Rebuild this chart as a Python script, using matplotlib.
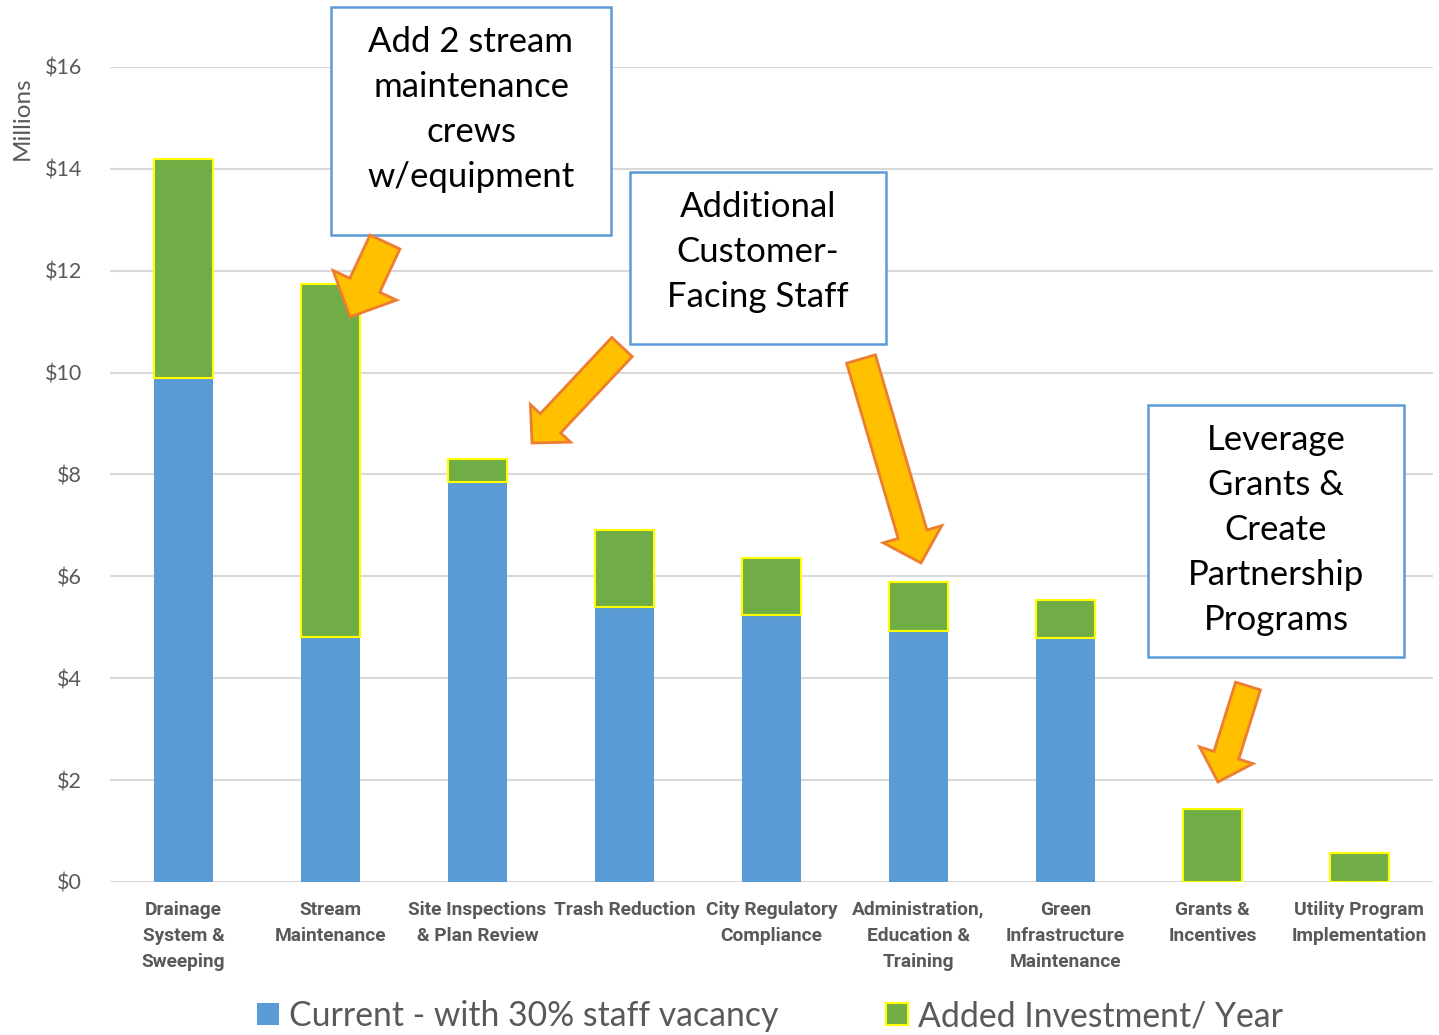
import matplotlib.pyplot as plt
import numpy as np
from matplotlib.patches import Rectangle, FancyArrow

plt.rcParams['font.family'] = ['Lato', 'DejaVu Sans']

categories = ["Drainage\nSystem &\nSweeping", "Stream\nMaintenance", "Site Inspections\n& Plan Review",
              "Trash Reduction", "City Regulatory\nCompliance", "Administration,\nEducation &\nTraining",
              "Green\nInfrastructure\nMaintenance", "Grants &\nIncentives", "Utility Program\nImplementation"]
current = [9.89, 4.81, 7.85, 5.40, 5.24, 4.93, 4.79, 0.0, 0.0]
added = [4.30, 6.93, 0.45, 1.51, 1.12, 0.96, 0.75, 1.43, 0.57]
yticks = [0, 2, 4, 6, 8, 10, 12, 14, 16]

BLUE = '#5B9BD5'
GREEN = '#70AD47'
GRAY = '#595959'
W, H = 1439, 1035

fig = plt.figure(figsize=(W / 100, H / 100), dpi=100)
ax = fig.add_axes([110 / W, 1 - 882 / H, (1433 - 110) / W, (882 - 67) / H])

x = np.arange(len(categories))
ax.bar(x, current, width=0.4, color=BLUE, zorder=2, label='Current - with 30% staff vacancy')
ax.bar(x, added, width=0.4, bottom=current, color=GREEN, edgecolor='#FFFF00', linewidth=1.5,
       zorder=2, label='Added Investment/ Year')

ax.set_xlim(-0.5, len(categories) - 0.5)
ax.set_ylim(0, 16)
ax.set_yticks(yticks)
ax.set_yticklabels(['$%d' % v for v in yticks], color=GRAY, fontsize=15.5)
ax.set_xticks(x)
ax.set_xticklabels(categories, color=GRAY, fontsize=13.8, fontweight='bold', linespacing=1.58,
                   va='top', family=['Roboto', 'DejaVu Sans'])
ax.tick_params(axis='both', length=0)
ax.tick_params(axis='y', pad=20)
ax.tick_params(axis='x', pad=13.5)
ax.grid(axis='y', color='#D9D9D9', linewidth=1.5, zorder=0)
for s in ax.spines.values():
    s.set_visible(False)

fig.text(22 / W, 1 - 118 / H, 'Millions', rotation=90, ha='center', va='center', color=GRAY, fontsize=17.5)

fig.legend(loc='center', bbox_to_anchor=(770 / W, 1 - 1016 / H), ncol=2, frameon=False,
           fontsize=24.3, labelcolor=GRAY, handlelength=0.65, handleheight=0.65, handletextpad=0.3,
           columnspacing=3.2)

# annotation layer in pixel coordinates
ov = fig.add_axes([0, 0, 1, 1], zorder=5)
ov.set_xlim(0, W)
ov.set_ylim(H, 0)
ov.axis('off')

boxes = [
    (331, 7, 611, 235, "Add 2 stream\nmaintenance\ncrews\nw/equipment"),
    (630, 172, 886, 344, "Additional\nCustomer-\nFacing Staff"),
    (1148, 405, 1404, 657, "Leverage\nGrants &\nCreate\nPartnership\nPrograms"),
]
for x0, y0, x1, y1, txt in boxes:
    ov.add_patch(Rectangle((x0, y0), x1 - x0, y1 - y0, facecolor='white', edgecolor=BLUE, linewidth=1.8))
    n = txt.count('\n')
    ov.text((x0 + x1) / 2, y0 + 35 + n * 45 / 2, txt, ha='center', va='center', fontsize=25,
            color='black', linespacing=1.5)

arrows = [
    # tail center, tip, shaft width, head width, head length
    ((385, 242), (350, 317), 33, 70, 35),
    ((622, 347), (532, 443), 28, 55, 27),
    ((861, 359), (921, 563), 30, 61, 30),
    ((1248, 686), (1218, 782), 26, 56, 28),
]
for (tx, ty), (hx, hy), sw, hw, hl in arrows:
    ov.add_patch(FancyArrow(tx, ty, hx - tx, hy - ty, width=sw, head_width=hw, head_length=hl,
                            length_includes_head=True, facecolor='#FFC000', edgecolor='#ED7D31',
                            linewidth=2))

fig.savefig('out.png', dpi=100)
